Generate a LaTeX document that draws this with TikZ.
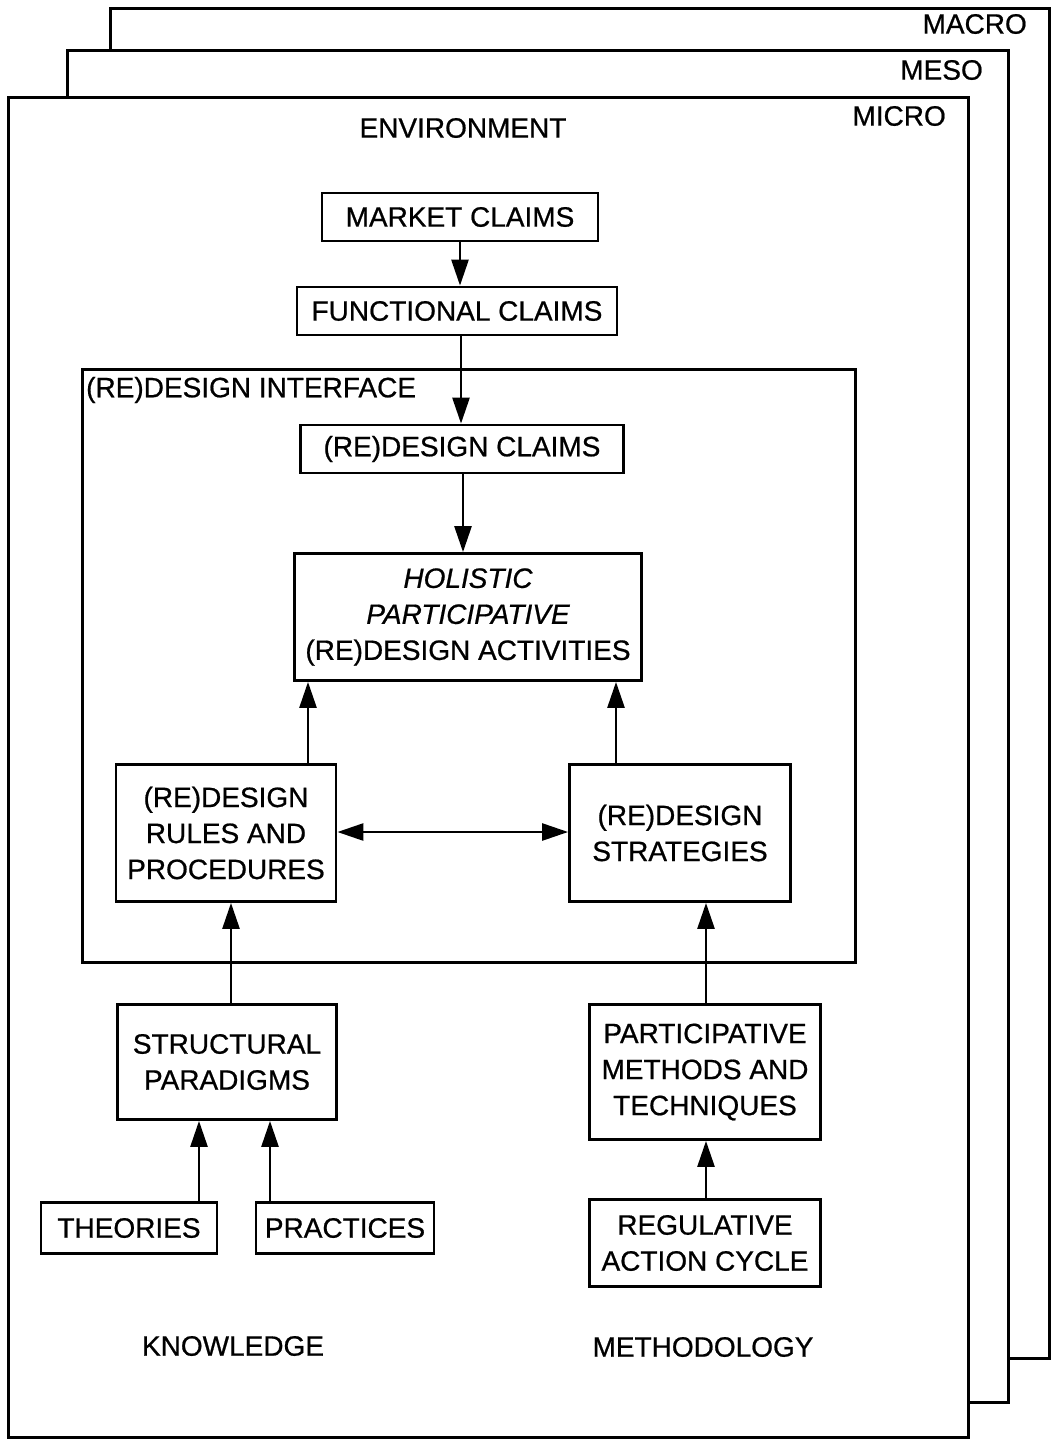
\documentclass[tikz,border=0pt]{standalone}
\usepackage{fontspec}
\setmainfont{Liberation Sans}[FakeBold=0.7]
\usetikzlibrary{arrows.meta}
\tikzset{
  frameline/.style={line width=3pt, line join=miter},
  box/.style={draw, line width=2.8pt, align=center, inner sep=0pt,
    font=\fontsize{28}{36}\selectfont},
  lbl/.style={inner sep=0pt, font=\fontsize{28}{36}\selectfont},
  arr/.style={line width=2.6pt, -{Triangle[length=26pt,width=17pt]}},
  darr/.style={line width=2.6pt, {Triangle[length=26pt,width=17pt]}-{Triangle[length=26pt,width=17pt]}}
}
\begin{document}
\begin{tikzpicture}[x=1pt,y=-1pt]
\useasboundingbox (0,0) rectangle (1051,1440);
% stacked sheets
\draw[frameline] (110,50) -- (110,8) -- (1049,8) -- (1049,1358) -- (1008,1358);
\draw[frameline] (67,97) -- (67,50) -- (1008,50) -- (1008,1402) -- (968,1402);
\draw[frameline] (8,97) rectangle (968,1437);
\node[lbl, anchor=east] (macro) at (1027,24) {MACRO};
\node[lbl, anchor=east] (meso) at (983,70) {MESO};
\node[lbl, anchor=east] (micro) at (946,116) {MICRO};
\node[lbl] (env) at (463,128) {ENVIRONMENT};
% interface
\draw[frameline] (82,369) rectangle (855,962);
\node[lbl, anchor=west] (ifl) at (86,390) {(RE)DESIGN INTERFACE};
% boxes
\node[box, minimum width=276pt, minimum height=48pt] (mkt) at (460,217) {MARKET CLAIMS};
\node[box, minimum width=320pt, minimum height=48pt] (fun) at (457,311) {FUNCTIONAL CLAIMS};
\node[box, minimum width=323pt, minimum height=48pt] (rdc) at (462,449) {(RE)DESIGN CLAIMS};
\node[box, minimum width=347pt, minimum height=127pt] (hol) at (468,617) {\itshape HOLISTIC\\\itshape PARTICIPATIVE\\(RE)DESIGN ACTIVITIES};
\node[box, minimum width=220pt, minimum height=137pt] (rul) at (226,833) {(RE)DESIGN\\RULES AND\\PROCEDURES};
\node[box, minimum width=221pt, minimum height=137pt] (str) at (680,833) {(RE)DESIGN\\STRATEGIES};
\node[box, minimum width=219pt, minimum height=115pt] (sp) at (227,1062) {STRUCTURAL\\PARADIGMS};
\node[box, minimum width=231pt, minimum height=135pt] (pm) at (705,1072) {PARTICIPATIVE\\METHODS AND\\TECHNIQUES};
\node[box, minimum width=176pt, minimum height=51pt] (th) at (129,1228) {THEORIES};
\node[box, minimum width=178pt, minimum height=51pt] (pr) at (345,1228) {PRACTICES};
\node[box, minimum width=231pt, minimum height=87pt] (rac) at (705,1243) {REGULATIVE\\ACTION CYCLE};
\node[lbl] (kn) at (233,1346) {KNOWLEDGE};
\node[lbl] (me) at (703,1347) {METHODOLOGY};
% arrow columns
\coordinate (c460) at (460,0);
\coordinate (c461) at (461,0);
\coordinate (c463) at (463,0);
\coordinate (c308) at (308,0);
\coordinate (c616) at (616,0);
\coordinate (c231) at (231,0);
\coordinate (c706) at (706,0);
\coordinate (c199) at (199,0);
\coordinate (c270) at (270,0);
\coordinate (r832) at (0,832);
% connectors
\draw[arr] (mkt.south -| c460) -- (fun.north -| c460);
\draw[arr] (fun.south -| c461) -- (rdc.north -| c461);
\draw[arr] (rdc.south -| c463) -- (hol.north -| c463);
\draw[arr] (rul.north -| c308) -- (hol.south -| c308);
\draw[arr] (str.north -| c616) -- (hol.south -| c616);
\draw[darr] (rul.east |- r832) -- (str.west |- r832);
\draw[arr] (sp.north -| c231) -- (rul.south -| c231);
\draw[arr] (pm.north -| c706) -- (str.south -| c706);
\draw[arr] (th.north -| c199) -- (sp.south -| c199);
\draw[arr] (pr.north -| c270) -- (sp.south -| c270);
\draw[arr] (rac.north -| c706) -- (pm.south -| c706);
\end{tikzpicture}
\end{document}
